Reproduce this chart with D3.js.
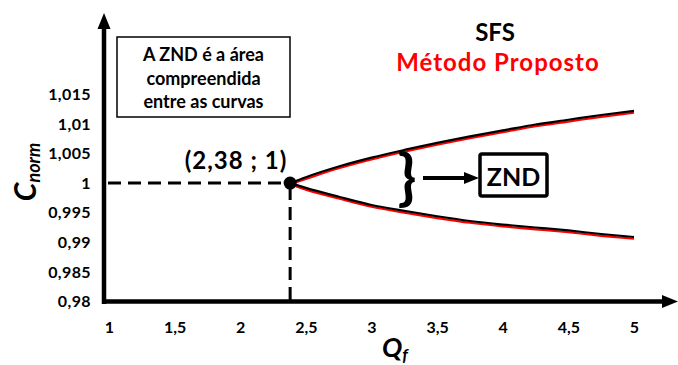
<!DOCTYPE html>
<html>
<head>
<meta charset="utf-8">
<script src="https://cdn.jsdelivr.net/npm/d3@7"></script>
<style>
  html, body { margin: 0; padding: 0; background: #fff; }
  svg { display: block; }
  text { font-family: "Lato", "Open Sans", sans-serif; font-weight: 700; }
</style>
</head>
<body>
<svg id="chart" width="678" height="365"></svg>
<script>
// Q_f sample positions along both curves
const qf = [2.38, 2.5, 2.75, 3.0, 3.25, 3.5, 3.75, 4.0, 4.25, 4.5, 4.75, 5.0];
// SFS upper and lower bounds of C_norm
const sfsUpper = [1.0, 1.0010, 1.0028, 1.0043, 1.0056, 1.0068, 1.0079, 1.0089, 1.0099, 1.0107, 1.0115, 1.0122];
const sfsLower = [1.0, 0.9992, 0.9977, 0.9963, 0.9953, 0.9944, 0.9936, 0.9930, 0.9925, 0.9920, 0.9914, 0.9909];
// Proposed method bounds
const propUpper = [1.0, 1.0009, 1.0027, 1.0042, 1.0055, 1.0067, 1.0078, 1.0088, 1.0098, 1.0106, 1.0114, 1.0121];
const propLower = [1.0, 0.9991, 0.9976, 0.9962, 0.9952, 0.9943, 0.9935, 0.9929, 0.9924, 0.9919, 0.9913, 0.9908];

const xTicks = [1, 1.5, 2, 2.5, 3, 3.5, 4, 4.5, 5];
const xTickLabels = ["1", "1,5", "2", "2,5", "3", "3,5", "4", "4,5", "5"];
const yTicks = [0.98, 0.985, 0.99, 0.995, 1, 1.005, 1.01, 1.015];
const yTickLabels = ["0,98", "0,985", "0,99", "0,995", "1", "1,005", "1,01", "1,015"];

const point = { q: 2.38, c: 1, label: "(2,38 ; 1)" };

const svg = d3.select("#chart");
const x = d3.scaleLinear().domain([1, 5]).range([109, 634]);
const y = d3.scaleLinear().domain([0.98, 1.015]).range([301.5, 94.3]);

// axes: labels only, lines drawn separately with arrowheads
const xAxis = d3.axisBottom(x).tickValues(xTicks).tickSize(0).tickPadding(0)
  .tickFormat((d, i) => xTickLabels[i]);
const gx = svg.append("g").attr("transform", "translate(0,322)").call(xAxis);
gx.select(".domain").remove();
gx.selectAll("text").attr("font-size", 16).attr("fill", "#000")
  .attr("font-family", "Lato").attr("font-weight", 700);

const yAxis = d3.axisLeft(y).tickValues(yTicks).tickSize(0).tickPadding(0)
  .tickFormat((d, i) => yTickLabels[i]);
const gy = svg.append("g").attr("transform", "translate(91,0)").call(yAxis);
gy.select(".domain").remove();
gy.selectAll("text").attr("font-size", 16).attr("letter-spacing", 0.4).attr("fill", "#000")
  .attr("font-family", "Lato").attr("font-weight", 700);

// guide lines to the marked point
svg.append("line")
  .attr("x1", 108).attr("x2", x(point.q)).attr("y1", y(point.c)).attr("y2", y(point.c))
  .attr("stroke", "#000").attr("stroke-width", 3).attr("stroke-dasharray", "13,7");
svg.append("line")
  .attr("x1", x(point.q)).attr("x2", x(point.q)).attr("y1", y(point.c) + 4).attr("y2", 300)
  .attr("stroke", "#000").attr("stroke-width", 3).attr("stroke-dasharray", "13,7");

// axis lines with arrowheads
svg.append("line").attr("x1", 104).attr("x2", 104).attr("y1", 304).attr("y2", 28)
  .attr("stroke", "#000").attr("stroke-width", 4.5);
svg.append("path").attr("d", "M104,13 L97.5,29 L110.5,29 Z").attr("fill", "#000");
svg.append("line").attr("x1", 102).attr("x2", 665).attr("y1", 301.5).attr("y2", 301.5)
  .attr("stroke", "#000").attr("stroke-width", 4.5);
svg.append("path").attr("d", "M678,301.5 L662,295 L662,308 Z").attr("fill", "#000");

// curves
const line = d3.line().x((d) => x(d[0])).y((d) => y(d[1])).curve(d3.curveMonotoneX);
const series = [
  { vals: propUpper, color: "#ff0000", dy: 1.2 },
  { vals: propLower, color: "#ff0000", dy: 1.2 },
  { vals: sfsUpper, color: "#000", dy: 0 },
  { vals: sfsLower, color: "#000", dy: 0 }
];
series.forEach((s) => {
  svg.append("path")
    .datum(qf.map((q, i) => [q, s.vals[i]]))
    .attr("d", line)
    .attr("transform", `translate(0,${s.dy})`)
    .attr("fill", "none").attr("stroke", s.color).attr("stroke-width", 2.2);
});

// marked point
svg.append("circle").attr("cx", x(point.q)).attr("cy", y(point.c)).attr("r", 6.5).attr("fill", "#000");
svg.append("text").attr("x", 236).attr("y", 169).attr("text-anchor", "middle")
  .attr("font-size", 24).attr("letter-spacing", 1).attr("fill", "#000").text(point.label);

// note box
svg.append("rect").attr("x", 117).attr("y", 37).attr("width", 173).attr("height", 80)
  .attr("fill", "#fff").attr("stroke", "#000").attr("stroke-width", 1.5);
const note = ["A ZND é a área", "compreendida", "entre as curvas"];
svg.append("g").selectAll("text").data(note).join("text")
  .attr("x", 203.5).attr("y", (d, i) => 61 + i * 23.5)
  .attr("text-anchor", "middle").attr("font-size", 18).attr("fill", "#000").text((d) => d);

// legend
svg.append("text").attr("x", 495).attr("y", 41).attr("text-anchor", "middle")
  .attr("font-size", 24).attr("fill", "#000").text("SFS");
svg.append("text").attr("x", 498).attr("y", 71).attr("text-anchor", "middle")
  .attr("font-size", 24).attr("letter-spacing", 1).attr("fill", "#ff0000").text("Método Proposto");

// brace, arrow and ZND tag
svg.append("text").attr("x", 407).attr("y", 199).attr("text-anchor", "middle")
  .attr("font-size", 62).attr("font-family", "DejaVu Sans").attr("fill", "#000").text("}");
svg.append("line").attr("x1", 423).attr("x2", 466).attr("y1", 178).attr("y2", 178)
  .attr("stroke", "#000").attr("stroke-width", 4);
svg.append("path").attr("d", "M479,178 L464,172 L464,184 Z").attr("fill", "#000");
svg.append("rect").attr("x", 480).attr("y", 154).attr("width", 67).attr("height", 42).attr("rx", 2)
  .attr("fill", "#fff").attr("stroke", "#000").attr("stroke-width", 3.5);
svg.append("text").attr("x", 513.5).attr("y", 185.5).attr("text-anchor", "middle")
  .attr("font-size", 25).attr("fill", "#000").text("ZND");

// axis titles
const yTitle = svg.append("text").attr("transform", "translate(36,172) rotate(-90)")
  .attr("text-anchor", "middle").attr("fill", "#000")
  .attr("font-family", "DejaVu Serif").attr("font-style", "italic").attr("font-weight", 700);
yTitle.append("tspan").attr("font-size", 30).text("C");
yTitle.append("tspan").attr("font-size", 18).attr("dy", 4).text("norm");

const xTitle = svg.append("text").attr("x", 395).attr("y", 357)
  .attr("text-anchor", "middle").attr("fill", "#000")
  .attr("font-family", "DejaVu Serif").attr("font-style", "italic").attr("font-weight", 700);
xTitle.append("tspan").attr("font-size", 27).text("Q");
xTitle.append("tspan").attr("font-size", 17).attr("dy", 4).text("f");
</script>
</body>
</html>
